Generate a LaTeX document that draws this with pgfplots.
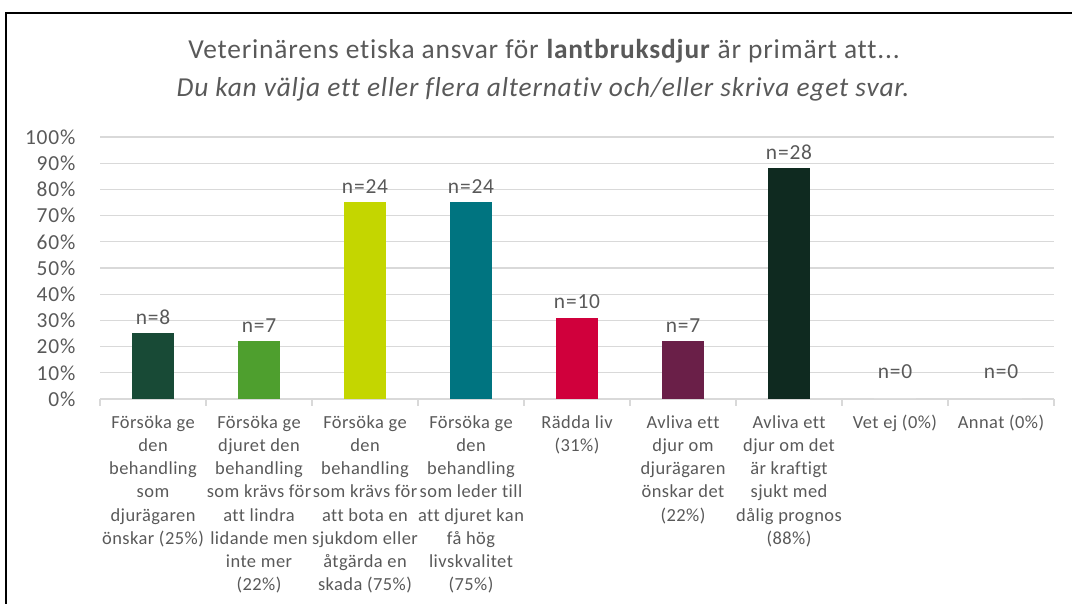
\documentclass[border=0pt]{standalone}
\usepackage{pgfplots}
\pgfplotsset{compat=1.18}
\usepackage{fontspec}
\setmainfont{Carlito}[Ligatures=NoCommon]
\newfontfamily\ftitle{Carlito}[Ligatures=NoCommon, LetterSpace=3]
\newfontfamily\ftick{Carlito}[Ligatures=NoCommon, LetterSpace=4]
\newfontfamily\flab{Carlito}[Ligatures=NoCommon, LetterSpace=2.5]
\definecolor{txt}{HTML}{595959}
\definecolor{gridc}{HTML}{D9D9D9}
\definecolor{c1}{HTML}{184A36}
\definecolor{c2}{HTML}{4E9F2E}
\definecolor{c3}{HTML}{C4D600}
\definecolor{c4}{HTML}{007480}
\definecolor{c5}{HTML}{D0003C}
\definecolor{c6}{HTML}{6A1F48}
\definecolor{c7}{HTML}{0F2A20}
\begin{document}
\begin{tikzpicture}[x=1bp,y=1bp]
\path[use as bounding box] (0,0) rectangle (1072,604);
\draw[line width=1.5bp] (6,0) -- (6,591) -- (1072,591);
\node[txt, font=\ftitle\fontsize{27.5}{32}\selectfont] at (544,553)
  {Veterinärens etiska ansvar för \textbf{lantbruksdjur} är primärt att...};
\node[txt, font=\ftitle\fontsize{27.5}{32}\selectfont\itshape] at (543,515)
  {Du kan välja ett eller flera alternativ och/eller skriva eget svar.};
\begin{axis}[
    at={(100bp,205bp)}, anchor=south west,
    scale only axis, width=954bp, height=262bp,
    ybar, bar width=42bp, bar shift=0pt,
    xmin=-0.5, xmax=8.5, ymin=0, ymax=100,
    axis lines*=left,
    y axis line style={draw=none},
    x axis line style={gridc, line width=1.3bp},
    ytick={0,10,...,100},
    yticklabel={\pgfmathprintnumber{\tick}\%},
    /pgf/number format/assume math mode=true,
    yticklabel style={txt, font=\ftick\fontsize{21.5}{24}\selectfont, xshift=-21bp},
    ymajorgrids, grid style={gridc, line width=1.3bp},
    major tick length=0pt,
    minor xtick={-0.5,0.5,...,8.5},
    minor tick length=7bp, tick align=outside,
    minor x tick style={gridc, line width=1.3bp},
    xtick={0,...,8},
    xticklabel style={txt, font=\flab\fontsize{18.5}{23.3}\selectfont, align=center, anchor=north, yshift=-13bp},
    xticklabels={
      {Försöka ge\\den\\behandling\\som\\djurägaren\\önskar (25\%)},
      {Försöka ge\\djuret den\\behandling\\som krävs för\\att lindra\\lidande men\\inte mer\\(22\%)},
      {Försöka ge\\den\\behandling\\som krävs för\\att bota en\\sjukdom eller\\åtgärda en\\skada (75\%)},
      {Försöka ge\\den\\behandling\\som leder till\\att djuret kan\\få hög\\livskvalitet\\(75\%)},
      {Rädda liv\\(31\%)},
      {Avliva ett\\djur om\\djurägaren\\önskar det\\(22\%)},
      {Avliva ett\\djur om det\\är kraftigt\\sjukt med\\dålig prognos\\(88\%)},
      {Vet ej (0\%)},
      {Annat (0\%)}},
    nodes near coords, point meta=explicit symbolic,
    nodes near coords style={txt, font=\ftick\fontsize{21.5}{24}\selectfont, anchor=south, inner sep=0pt, yshift=9bp},
    clip=false,
]
\addplot[fill=c1, draw=none] coordinates {(0,25) [n=8]};
\addplot[fill=c2, draw=none] coordinates {(1,22) [n=7]};
\addplot[fill=c3, draw=none] coordinates {(2,75) [n=24]};
\addplot[fill=c4, draw=none] coordinates {(3,75) [n=24]};
\addplot[fill=c5, draw=none] coordinates {(4,31) [n=10]};
\addplot[fill=c6, draw=none] coordinates {(5,22) [n=7]};
\addplot[fill=c7, draw=none] coordinates {(6,88) [n=28]};
\addplot[fill=white, draw=none, every node near coord/.append style={yshift=11bp}] coordinates {(7,0) [n=0]};
\addplot[fill=white, draw=none, every node near coord/.append style={yshift=11bp}] coordinates {(8,0) [n=0]};
\end{axis}
\end{tikzpicture}
\end{document}
